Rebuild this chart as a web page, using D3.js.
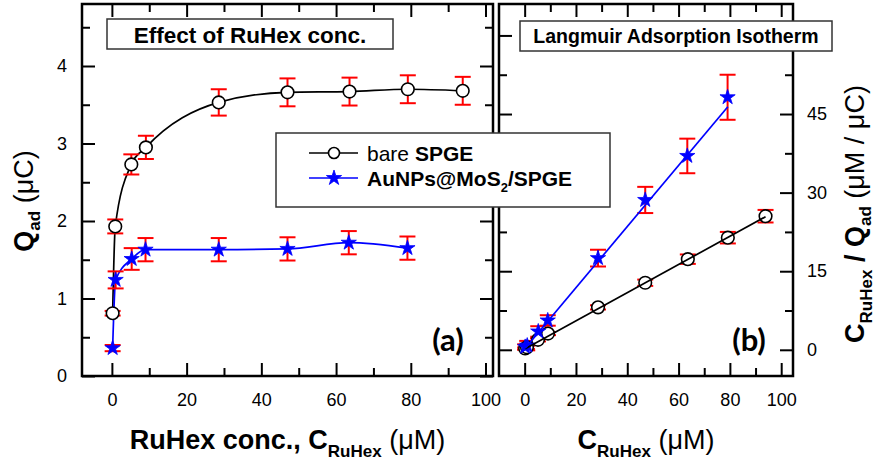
<!DOCTYPE html>
<html><head><meta charset="utf-8">
<script src="https://cdn.jsdelivr.net/npm/d3@7"></script>
<style>body{margin:0;background:#fff}svg{display:block}</style>
</head><body><svg id="c" width="876" height="469"></svg>
<script>
// ---------- data ----------
const concBare = [0.2, 0.9, 5.2, 9.1, 28.6, 47.0, 63.6, 79.2, 93.9];
const qBare = [0.81, 1.93, 2.73, 2.95, 3.53, 3.66, 3.67, 3.70, 3.68];
const qBareErr = [0.03, 0.09, 0.13, 0.15, 0.17, 0.18, 0.18, 0.18, 0.18];
const concMoS2 = [0.2, 1.0, 5.3, 9.0, 28.6, 47.0, 63.4, 79.1];
const qMoS2 = [0.36, 1.24, 1.51, 1.63, 1.63, 1.64, 1.72, 1.65];
const qMoS2Err = [0.04, 0.11, 0.14, 0.15, 0.15, 0.15, 0.15, 0.15];
const ratioBare = [0.25, 0.47, 1.9, 3.1, 8.1, 12.8, 17.3, 21.4, 25.5];
const ratioBareErr = [0.2, 0.3, 0.3, 0.3, 0.4, 0.6, 0.9, 1.1, 1.2];
const ratioMoS2 = [0.55, 0.8, 3.5, 5.6, 17.5, 28.6, 37.0, 48.2];
const ratioMoS2Err = [0.5, 0.9, 1.0, 1.0, 1.6, 2.5, 3.3, 4.3];
const fitBareX = [0.2, 93.9], fitBareY = [0.2, 25.4];
const fitMoS2X = [0.2, 79.2], fitMoS2Y = [0.3, 46.4];
// ticks
const xTicksMajor = [0, 20, 40, 60, 80, 100];
const xTicksMinor = [10, 30, 50, 70, 90];
const qTicksMajor = [0, 1, 2, 3, 4];
const qTicksMinor = [0.5, 1.5, 2.5, 3.5, 4.5];
const rTicksMajor = [0, 15, 30, 45, 60];
const rTicksMinor = [7.5, 22.5, 37.5, 52.5];
const rTickLabels = [0, 15, 30, 45];
// texts
const legendLabels = ["bare", "AuNPs@MoS"];
const titleA = "Effect of RuHex conc.";
const titleB = "Langmuir Adsorption Isotherm";

// ---------- layout ----------
const FONT = "'Liberation Sans', Arial, Helvetica, sans-serif";
const RED = "#ff0000", BLUE = "#0000ff";
const svg = d3.select("#c").style("font-family", FONT);
const PA = {l: 82, r: 493, t: 4, b: 376};
const PB = {l: 499, r: 793, t: 4, b: 376};

const xA = d3.scaleLinear().domain([-8, 102]).range([PA.l, PA.r]);
const yA = d3.scaleLinear().domain([0, 4.8]).range([PA.b, PA.t]);
const xB = d3.scaleLinear().domain([-10, 104.6]).range([PB.l, PB.r]);
const yB = d3.scaleLinear().domain([-5, 66]).range([PB.b, PB.t]);

function styleAxis(g) {
  g.select(".domain").remove();
  g.selectAll("line").attr("stroke", "#000").attr("stroke-width", 2);
  g.selectAll("text").attr("font-size", 18).attr("fill", "#000").style("font-family", FONT);
}

function axes(P, x, y, yMaj, yMin, yLab, labelSide) {
  const g = svg.append("g");
  // bottom
  g.append("g").attr("transform", `translate(0,${P.b})`)
    .call(d3.axisBottom(x).tickValues(xTicksMajor).tickSize(-13).tickSizeOuter(0).tickPadding(17)).call(styleAxis);
  g.append("g").attr("transform", `translate(0,${P.b})`)
    .call(d3.axisBottom(x).tickValues(xTicksMinor).tickSize(-8).tickSizeOuter(0).tickFormat("")).call(styleAxis);
  // top
  g.append("g").attr("transform", `translate(0,${P.t})`)
    .call(d3.axisTop(x).tickValues(xTicksMajor).tickSize(-13).tickSizeOuter(0).tickFormat("")).call(styleAxis);
  g.append("g").attr("transform", `translate(0,${P.t})`)
    .call(d3.axisTop(x).tickValues(xTicksMinor).tickSize(-8).tickSizeOuter(0).tickFormat("")).call(styleAxis);
  // left
  g.append("g").attr("transform", `translate(${P.l},0)`)
    .call(d3.axisLeft(y).tickValues(yMaj).tickSize(-13).tickSizeOuter(0).tickPadding(15)
      .tickFormat(d => labelSide === "left" && yLab.includes(d) ? d : "")).call(styleAxis);
  g.append("g").attr("transform", `translate(${P.l},0)`)
    .call(d3.axisLeft(y).tickValues(yMin).tickSize(-8).tickSizeOuter(0).tickFormat("")).call(styleAxis);
  // right
  g.append("g").attr("transform", `translate(${P.r},0)`)
    .call(d3.axisRight(y).tickValues(yMaj).tickSize(-13).tickSizeOuter(0).tickPadding(14)
      .tickFormat(d => labelSide === "right" && yLab.includes(d) ? d : "")).call(styleAxis);
  g.append("g").attr("transform", `translate(${P.r},0)`)
    .call(d3.axisRight(y).tickValues(yMin).tickSize(-8).tickSizeOuter(0).tickFormat("")).call(styleAxis);
  // frame
  g.append("rect").attr("x", P.l).attr("y", P.t).attr("width", P.r - P.l).attr("height", P.b - P.t)
    .attr("fill", "none").attr("stroke", "#000").attr("stroke-width", 2.5);
}

axes(PA, xA, yA, qTicksMajor, qTicksMinor, qTicksMajor, "left");
axes(PB, xB, yB, rTicksMajor, rTicksMinor, rTickLabels, "right");

const starPath = d3.symbol().type(d3.symbolStar).size(72)();

function errorBars(g, xs, ys, es, x, y) {
  const eg = g.append("g").attr("stroke", RED).attr("stroke-width", 2).attr("fill", "none");
  xs.forEach((xv, i) => {
    const cx = x(xv), y1 = y(ys[i] + es[i]), y2 = y(ys[i] - es[i]);
    eg.append("line").attr("x1", cx).attr("x2", cx).attr("y1", y1).attr("y2", y2);
    eg.append("line").attr("x1", cx - 8).attr("x2", cx + 8).attr("y1", y1).attr("y2", y1);
    eg.append("line").attr("x1", cx - 8).attr("x2", cx + 8).attr("y1", y2).attr("y2", y2);
  });
}
function circles(g, xs, ys, x, y) {
  g.append("g").selectAll("circle").data(xs).join("circle")
    .attr("cx", d => x(d)).attr("cy", (d, i) => y(ys[i])).attr("r", 6.3)
    .attr("fill", "#fff").attr("stroke", "#000").attr("stroke-width", 1.6);
}
function stars(g, xs, ys, x, y) {
  g.append("g").selectAll("path").data(xs).join("path")
    .attr("d", starPath).attr("transform", (d, i) => `translate(${x(d)},${y(ys[i])})`)
    .attr("fill", BLUE).attr("stroke", BLUE).attr("stroke-width", 0.8);
}
function curve(g, xs, ys, x, y, color, c) {
  const pts = xs.map((d, i) => [x(d), y(ys[i])]);
  g.append("path").attr("d", d3.line().curve(c)(pts))
    .attr("fill", "none").attr("stroke", color).attr("stroke-width", 1.7);
}

// ---------- panel (a) ----------
const gA = svg.append("g");
curve(gA, concBare, qBare, xA, yA, "#000", d3.curveMonotoneX);
curve(gA, concMoS2, qMoS2, xA, yA, BLUE, d3.curveMonotoneX);
errorBars(gA, concBare, qBare, qBareErr, xA, yA);
errorBars(gA, concMoS2, qMoS2, qMoS2Err, xA, yA);
circles(gA, concBare, qBare, xA, yA);
stars(gA, concMoS2, qMoS2, xA, yA);

// ---------- panel (b) ----------
const gB = svg.append("g");
errorBars(gB, concBare, ratioBare, ratioBareErr, xB, yB);
errorBars(gB, concMoS2, ratioMoS2, ratioMoS2Err, xB, yB);
circles(gB, concBare, ratioBare, xB, yB);
stars(gB, concMoS2, ratioMoS2, xB, yB);
curve(gB, fitBareX, fitBareY, xB, yB, "#000", d3.curveLinear);
curve(gB, fitMoS2X, fitMoS2Y, xB, yB, BLUE, d3.curveLinear);

// ---------- panel labels ----------
svg.append("text").attr("x", 448).attr("y", 351).attr("text-anchor", "middle")
  .attr("font-family", "Lato, 'Open Sans', sans-serif").attr("font-weight", 700).attr("font-size", 31).text("(a)");
svg.append("text").attr("x", 749).attr("y", 351).attr("text-anchor", "middle")
  .attr("font-family", "Lato, 'Open Sans', sans-serif").attr("font-weight", 700).attr("font-size", 31).text("(b)");

// ---------- title boxes ----------
function titleBox(x0, y0, w, h, txt, fs, base) {
  svg.append("rect").attr("x", x0).attr("y", y0).attr("width", w).attr("height", h)
    .attr("fill", "#fff").attr("stroke", "#333").attr("stroke-width", 1.5);
  svg.append("text").attr("x", x0 + w / 2).attr("y", base).attr("text-anchor", "middle")
    .attr("font-weight", 700).attr("font-size", fs).attr("fill", "#000").text(txt);
}
titleBox(107, 19, 286, 30, titleA, 22.5, 43);
titleBox(520, 21, 312, 30, titleB, 19.5, 43);

// ---------- legend ----------
const lg = svg.append("g");
lg.append("rect").attr("x", 276).attr("y", 133).attr("width", 334).attr("height", 74)
  .attr("fill", "#fff").attr("stroke", "#333").attr("stroke-width", 1.5);
lg.append("line").attr("x1", 309).attr("x2", 358).attr("y1", 153).attr("y2", 153).attr("stroke", "#000").attr("stroke-width", 1.7);
lg.append("circle").attr("cx", 334).attr("cy", 153).attr("r", 5.5).attr("fill", "#fff").attr("stroke", "#000").attr("stroke-width", 1.6);
lg.append("line").attr("x1", 309).attr("x2", 358).attr("y1", 178).attr("y2", 178).attr("stroke", BLUE).attr("stroke-width", 1.7);
lg.append("path").attr("d", starPath).attr("transform", "translate(334,178)").attr("fill", BLUE).attr("stroke", BLUE).attr("stroke-width", 0.8);
const t1 = lg.append("text").attr("x", 367).attr("y", 160.5).attr("font-size", 21).attr("fill", "#000");
t1.append("tspan").text(legendLabels[0] + " ");
t1.append("tspan").attr("font-weight", 700).text("SPGE");
const t2 = lg.append("text").attr("x", 367).attr("y", 185.5).attr("font-size", 21).attr("fill", "#000").attr("font-weight", 700);
t2.append("tspan").text(legendLabels[1]);
t2.append("tspan").attr("font-size", 13).attr("dy", 6).text("2");
t2.append("tspan").attr("dy", -6).text("/SPGE");

// ---------- axis titles ----------
const xtA = svg.append("text").attr("x", (PA.l + PA.r) / 2).attr("y", 449).attr("text-anchor", "middle").attr("font-size", 27).attr("fill", "#000");
xtA.append("tspan").attr("font-weight", 700).text("RuHex conc., C");
xtA.append("tspan").attr("font-weight", 700).attr("font-size", 17).attr("dy", 8).text("RuHex");
xtA.append("tspan").attr("dy", -8).text(" (\u03bcM)");

const xtB = svg.append("text").attr("x", (PB.l + PB.r) / 2).attr("y", 449).attr("text-anchor", "middle").attr("font-size", 27).attr("fill", "#000");
xtB.append("tspan").attr("font-weight", 700).text("C");
xtB.append("tspan").attr("font-weight", 700).attr("font-size", 17).attr("dy", 8).text("RuHex");
xtB.append("tspan").attr("dy", -8).text(" (\u03bcM)");

const ytA = svg.append("text").attr("transform", "translate(33,201) rotate(-90)").attr("text-anchor", "middle").attr("font-size", 27).attr("fill", "#000");
ytA.append("tspan").attr("font-weight", 700).text("Q");
ytA.append("tspan").attr("font-weight", 700).attr("font-size", 17).attr("dy", 7).text("ad");
ytA.append("tspan").attr("dy", -7).text(" (\u03bcC)");

const ytB = svg.append("text").attr("transform", "translate(864,214) rotate(-90)").attr("text-anchor", "middle").attr("font-size", 27).attr("fill", "#000");
ytB.append("tspan").attr("font-weight", 700).text("C");
ytB.append("tspan").attr("font-weight", 700).attr("font-size", 17).attr("dy", 8).text("RuHex");
ytB.append("tspan").attr("font-weight", 700).attr("dy", -8).text(" / Q");
ytB.append("tspan").attr("font-weight", 700).attr("font-size", 17).attr("dy", 7).text("ad");
ytB.append("tspan").attr("dy", -7).text(" (\u03bcM / \u03bcC)");
</script>
</body></html>
